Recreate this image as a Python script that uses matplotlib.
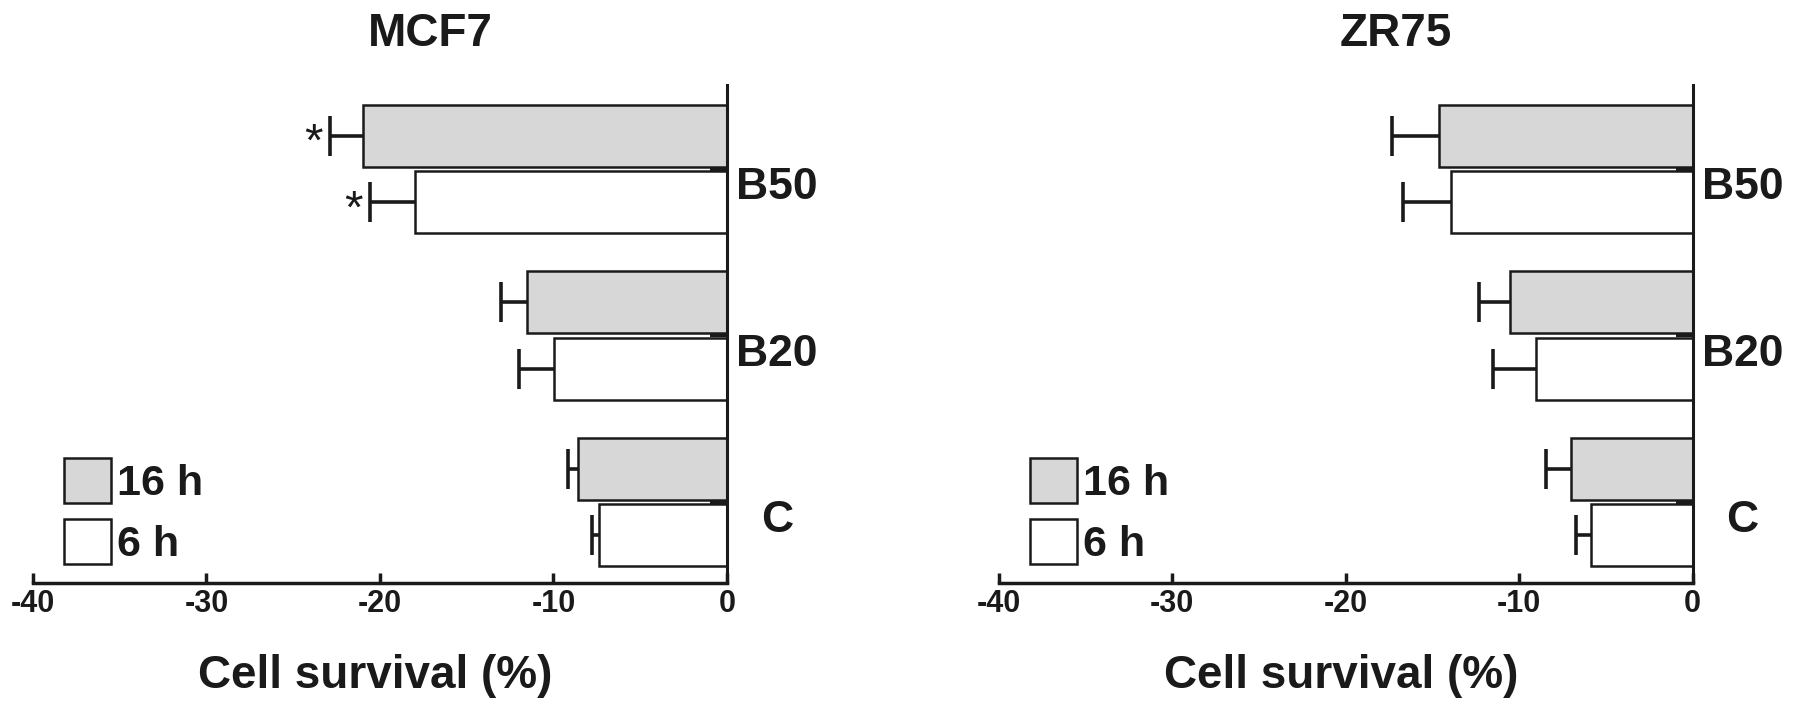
import matplotlib
matplotlib.use('Agg')
import matplotlib.pyplot as plt
import numpy as np

plt.rcParams['font.family'] = ['Liberation Sans', 'DejaVu Sans']
plt.rcParams['axes.unicode_minus'] = False

# data (percent change in cell survival)
groups = ['C', 'B20', 'B50']
series = ['16 h', '6 h']
xticks = [-40, -30, -20, -10, 0]

mcf7_16h = [-8.6, -11.5, -21.0]
mcf7_16h_err = [0.55, 1.55, 1.9]
mcf7_6h = [-7.4, -9.95, -18.0]
mcf7_6h_err = [0.35, 2.05, 2.6]
mcf7_star_16h = [False, False, True]
mcf7_star_6h = [False, False, True]

zr75_16h = [-7.0, -10.5, -14.6]
zr75_16h_err = [1.45, 1.8, 2.7]
zr75_6h = [-5.85, -9.0, -13.9]
zr75_6h_err = [0.85, 2.5, 2.8]
zr75_star_16h = [False, False, False]
zr75_star_6h = [False, False, False]

GRAY = '#d7d7d7'
INK = '#1a1a1a'


def draw_panel(ax, title, v16, e16, s16, v6, e6, s6):
    y = np.arange(len(groups))
    sets = ((v16, e16, s16, 0.2, GRAY, series[0]),
            (v6, e6, s6, -0.2, 'white', series[1]))
    for vals, errs, stars, off, fc, lab in sets:
        vals = np.array(vals)
        errs = np.array(errs)
        ax.barh(y + off, vals, height=0.372, color=fc, edgecolor=INK,
                linewidth=1.8, label=lab, zorder=2)
        # one-sided error bars (only away from zero)
        ax.errorbar(vals, y + off, xerr=[errs, np.zeros(len(errs))], fmt='none',
                    ecolor=INK, elinewidth=2.6, capsize=0, zorder=3)
        ax.plot(vals - errs, y + off, ls='none', marker='|', ms=29.5, mew=2.6,
                color=INK, zorder=3)
        for yi, v, e, st in zip(y + off, vals, errs, stars):
            if st:
                ax.annotate('*', xy=(v - e, yi), xytext=(-11.5, -6),
                            textcoords='offset points', ha='center', va='center',
                            fontsize=34, color=INK)

    ax.set_xlim(-40, 0)
    ax.set_ylim(-0.487, 2.505)

    for s in ('top', 'left'):
        ax.spines[s].set_visible(False)
    ax.spines['right'].set_linewidth(2.2)
    ax.spines['right'].set_color(INK)
    ax.spines['bottom'].set_linewidth(2.5)
    ax.spines['bottom'].set_color(INK)
    ax.spines['bottom'].set_bounds(-40, 0)

    ax.set_xticks(xticks)
    ax.set_xticklabels([str(t) for t in xticks], fontweight='bold', color=INK)
    ax.tick_params(axis='x', direction='in', length=7.2, width=2.5, pad=4,
                   labelsize=22, color=INK)

    # tick marks at group centres, labels a little below them
    ax.yaxis.tick_right()
    ax.set_yticks(y)
    ax.set_yticklabels([])
    ax.set_yticks(y - 0.085, minor=True)
    ax.set_yticklabels(groups, minor=True, fontweight='bold', color=INK, ha='center')
    ax.tick_params(axis='y', which='major', direction='in', length=12.5, width=3,
                   color=INK)
    ax.tick_params(axis='y', which='minor', length=0, pad=36, labelsize=32)

    ax.text(0.572, 1.1024, title, transform=ax.transAxes, ha='center', va='center',
            fontsize=33, fontweight='bold', color=INK)
    ax.text(0.4935, -0.211, 'Cell survival (%)', transform=ax.transAxes,
            ha='center', va='baseline', fontsize=33, fontweight='bold', color=INK)

    ax.legend(loc='lower left', bbox_to_anchor=(0.0447, 0.036), frameon=False,
              prop={'weight': 'bold', 'size': 31}, handlelength=1.09,
              handleheight=1.22, handletextpad=0.15, labelspacing=0.35,
              borderpad=0, borderaxespad=0, labelcolor=INK)


fig = plt.figure(figsize=(17.95, 7.07), dpi=100)
ax1 = fig.add_axes([0.01838, 0.1754, 0.3866, 0.7044])
ax2 = fig.add_axes([0.5563, 0.1754, 0.3866, 0.7044])

draw_panel(ax1, 'MCF7', mcf7_16h, mcf7_16h_err, mcf7_star_16h,
           mcf7_6h, mcf7_6h_err, mcf7_star_6h)
draw_panel(ax2, 'ZR75', zr75_16h, zr75_16h_err, zr75_star_16h,
           zr75_6h, zr75_6h_err, zr75_star_6h)

fig.savefig('out.png', dpi=100)
